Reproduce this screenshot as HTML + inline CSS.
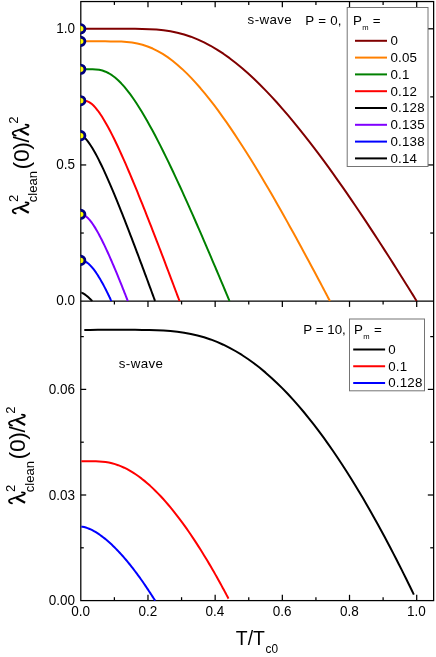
<!DOCTYPE html><html><head><meta charset="utf-8"><style>html,body{margin:0;padding:0;background:#fff}body{width:436px;height:657px;overflow:hidden;position:relative}</style></head><body><svg width="436" height="657" viewBox="0 0 436 657" style="position:absolute;left:0;top:0;will-change:transform;font-family:'Liberation Sans',sans-serif">
<rect width="436" height="657" fill="#fff"/>
<defs><clipPath id="ct"><rect x="81.3" y="1.55" width="352.33" height="299.90000000000003"/></clipPath><clipPath id="cb"><rect x="81.3" y="301.70000000000005" width="352.33" height="299.25"/></clipPath><clipPath id="cm"><rect x="80.5" y="0" width="30" height="300"/></clipPath></defs>
<g stroke="#000" stroke-width="1.25" fill="none">
<line x1="114.39" y1="1.55" x2="114.39" y2="4.95"/>
<line x1="114.39" y1="301.1" x2="114.39" y2="304.5"/>
<line x1="114.39" y1="600.6" x2="114.39" y2="597.2"/>
<line x1="147.98" y1="1.55" x2="147.98" y2="7.35"/>
<line x1="147.98" y1="301.1" x2="147.98" y2="306.90000000000003"/>
<line x1="147.98" y1="600.6" x2="147.98" y2="594.8000000000001"/>
<line x1="181.57" y1="1.55" x2="181.57" y2="4.95"/>
<line x1="181.57" y1="301.1" x2="181.57" y2="304.5"/>
<line x1="181.57" y1="600.6" x2="181.57" y2="597.2"/>
<line x1="215.16" y1="1.55" x2="215.16" y2="7.35"/>
<line x1="215.16" y1="301.1" x2="215.16" y2="306.90000000000003"/>
<line x1="215.16" y1="600.6" x2="215.16" y2="594.8000000000001"/>
<line x1="248.75" y1="1.55" x2="248.75" y2="4.95"/>
<line x1="248.75" y1="301.1" x2="248.75" y2="304.5"/>
<line x1="248.75" y1="600.6" x2="248.75" y2="597.2"/>
<line x1="282.34" y1="1.55" x2="282.34" y2="7.35"/>
<line x1="282.34" y1="301.1" x2="282.34" y2="306.90000000000003"/>
<line x1="282.34" y1="600.6" x2="282.34" y2="594.8000000000001"/>
<line x1="315.93" y1="1.55" x2="315.93" y2="4.95"/>
<line x1="315.93" y1="301.1" x2="315.93" y2="304.5"/>
<line x1="315.93" y1="600.6" x2="315.93" y2="597.2"/>
<line x1="349.52" y1="1.55" x2="349.52" y2="7.35"/>
<line x1="349.52" y1="301.1" x2="349.52" y2="306.90000000000003"/>
<line x1="349.52" y1="600.6" x2="349.52" y2="594.8000000000001"/>
<line x1="383.11" y1="1.55" x2="383.11" y2="4.95"/>
<line x1="383.11" y1="301.1" x2="383.11" y2="304.5"/>
<line x1="383.11" y1="600.6" x2="383.11" y2="597.2"/>
<line x1="416.70" y1="1.55" x2="416.70" y2="7.35"/>
<line x1="416.70" y1="301.1" x2="416.70" y2="306.90000000000003"/>
<line x1="416.70" y1="600.6" x2="416.70" y2="594.8000000000001"/>
<line x1="80.8" y1="233.03" x2="83.8" y2="233.03"/>
<line x1="433.63" y1="233.03" x2="430.23" y2="233.03"/>
<line x1="80.8" y1="164.95" x2="86.19999999999999" y2="164.95"/>
<line x1="433.63" y1="164.95" x2="427.83" y2="164.95"/>
<line x1="80.8" y1="96.88" x2="83.8" y2="96.88"/>
<line x1="433.63" y1="96.88" x2="430.23" y2="96.88"/>
<line x1="80.8" y1="28.80" x2="86.19999999999999" y2="28.80"/>
<line x1="433.63" y1="28.80" x2="427.83" y2="28.80"/>
<line x1="80.8" y1="547.80" x2="83.8" y2="547.80"/>
<line x1="433.63" y1="547.80" x2="430.23" y2="547.80"/>
<line x1="80.8" y1="495.00" x2="86.19999999999999" y2="495.00"/>
<line x1="433.63" y1="495.00" x2="427.83" y2="495.00"/>
<line x1="80.8" y1="442.20" x2="83.8" y2="442.20"/>
<line x1="433.63" y1="442.20" x2="430.23" y2="442.20"/>
<line x1="80.8" y1="389.40" x2="86.19999999999999" y2="389.40"/>
<line x1="433.63" y1="389.40" x2="427.83" y2="389.40"/>
<line x1="80.8" y1="336.60" x2="83.8" y2="336.60"/>
<line x1="433.63" y1="336.60" x2="430.23" y2="336.60"/>
</g>
<g stroke="#000" stroke-width="1.25" fill="none">
<rect x="80.8" y="1.55" width="352.83" height="599.0500000000001"/>
<line x1="80.8" y1="301.1" x2="433.63" y2="301.1"/>
</g>
<g clip-path="url(#ct)" fill="none" stroke-width="2.0" stroke-linejoin="round">
<path d="M80.80,28.80 L82.48,28.80 L90.19,28.80 L97.84,28.80 L105.41,28.80 L112.92,28.80 L120.36,28.80 L127.73,28.81 L135.03,28.84 L142.26,28.94 L149.42,29.17 L156.50,29.60 L163.52,30.29 L170.46,31.31 L177.33,32.70 L184.13,34.49 L190.86,36.69 L197.51,39.31 L204.08,42.34 L210.58,45.76 L217.00,49.56 L223.35,53.70 L229.62,58.17 L235.81,62.94 L241.92,67.98 L247.96,73.27 L253.91,78.78 L259.78,84.49 L265.57,90.36 L271.28,96.39 L276.91,102.54 L282.45,108.80 L287.91,115.15 L293.28,121.57 L298.57,128.05 L303.77,134.56 L308.88,141.10 L313.90,147.65 L318.83,154.19 L323.67,160.71 L328.42,167.21 L333.07,173.66 L337.63,180.07 L342.09,186.41 L346.45,192.69 L350.71,198.88 L354.87,204.98 L358.93,210.99 L362.89,216.89 L366.73,222.67 L370.47,228.34 L374.10,233.87 L377.62,239.26 L381.02,244.51 L384.30,249.60 L387.46,254.52 L390.50,259.28 L393.41,263.86 L396.19,268.24 L398.84,272.43 L401.34,276.41 L403.70,280.17 L405.90,283.70 L407.95,286.98 L409.82,289.99 L411.52,292.73 L413.02,295.15 L414.32,297.24 L415.38,298.95 L416.15,300.21 L416.53,300.83 L416.70,301.10" stroke="#800000"/>
<path d="M80.80,41.37 L82.48,41.37 L88.19,41.37 L93.85,41.37 L99.46,41.37 L105.02,41.37 L110.53,41.39 L115.98,41.45 L121.39,41.62 L126.74,41.97 L132.04,42.58 L137.29,43.51 L142.48,44.80 L147.62,46.47 L152.71,48.55 L157.74,51.03 L162.72,53.91 L167.64,57.15 L172.51,60.75 L177.32,64.67 L182.08,68.90 L186.78,73.40 L191.42,78.14 L196.00,83.11 L200.53,88.28 L205.00,93.62 L209.41,99.11 L213.75,104.73 L218.04,110.46 L222.27,116.29 L226.44,122.18 L230.54,128.14 L234.58,134.14 L238.56,140.18 L242.47,146.22 L246.32,152.27 L250.11,158.32 L253.82,164.35 L257.47,170.34 L261.06,176.30 L264.57,182.22 L268.01,188.07 L271.39,193.87 L274.69,199.59 L277.92,205.24 L281.08,210.80 L284.16,216.26 L287.16,221.63 L290.09,226.89 L292.94,232.04 L295.71,237.07 L298.40,241.98 L301.00,246.76 L303.52,251.40 L305.95,255.90 L308.29,260.24 L310.54,264.44 L312.69,268.46 L314.75,272.32 L316.71,276.00 L318.56,279.49 L320.31,282.79 L321.94,285.88 L323.45,288.75 L324.84,291.39 L326.10,293.78 L327.21,295.90 L328.17,297.73 L328.95,299.23 L329.53,300.32 L329.81,300.86 L329.93,301.10" stroke="#ff8000"/>
<path d="M80.80,69.24 L82.48,69.24 L85.87,69.24 L89.24,69.24 L92.57,69.27 L95.87,69.43 L99.15,69.82 L102.39,70.56 L105.60,71.69 L108.78,73.23 L111.93,75.19 L115.05,77.54 L118.14,80.26 L121.19,83.32 L124.22,86.68 L127.21,90.31 L130.17,94.18 L133.09,98.27 L135.98,102.54 L138.84,106.97 L141.67,111.54 L144.46,116.23 L147.22,121.01 L149.95,125.89 L152.64,130.82 L155.29,135.82 L157.91,140.85 L160.49,145.91 L163.04,150.98 L165.55,156.07 L168.03,161.15 L170.47,166.23 L172.87,171.28 L175.23,176.31 L177.56,181.31 L179.85,186.27 L182.10,191.19 L184.31,196.06 L186.48,200.88 L188.61,205.63 L190.69,210.33 L192.74,214.95 L194.75,219.51 L196.71,223.98 L198.63,228.38 L200.50,232.70 L202.33,236.93 L204.12,241.06 L205.86,245.11 L207.55,249.06 L209.20,252.90 L210.80,256.64 L212.34,260.27 L213.84,263.80 L215.28,267.20 L216.68,270.49 L218.01,273.65 L219.29,276.68 L220.52,279.58 L221.68,282.35 L222.78,284.97 L223.82,287.44 L224.79,289.75 L225.69,291.89 L226.51,293.86 L227.26,295.65 L227.92,297.23 L228.49,298.59 L228.96,299.70 L229.30,300.52 L229.46,300.92 L229.54,301.10" stroke="#008000"/>
<path d="M80.80,100.67 L82.48,100.67 L84.72,100.73 L86.94,101.15 L89.14,102.11 L91.32,103.59 L93.48,105.54 L95.62,107.86 L97.74,110.51 L99.84,113.43 L101.92,116.57 L103.98,119.91 L106.02,123.40 L108.03,127.03 L110.03,130.78 L112.01,134.62 L113.96,138.53 L115.89,142.51 L117.80,146.55 L119.69,150.62 L121.55,154.72 L123.40,158.84 L125.22,162.97 L127.02,167.11 L128.79,171.25 L130.54,175.39 L132.27,179.51 L133.98,183.61 L135.66,187.69 L137.32,191.74 L138.95,195.77 L140.56,199.76 L142.15,203.71 L143.71,207.62 L145.24,211.49 L146.75,215.31 L148.24,219.09 L149.70,222.81 L151.13,226.48 L152.53,230.09 L153.91,233.65 L155.26,237.14 L156.59,240.57 L157.88,243.94 L159.15,247.24 L160.39,250.47 L161.60,253.63 L162.78,256.72 L163.93,259.73 L165.04,262.67 L166.13,265.53 L167.18,268.31 L168.20,271.00 L169.19,273.61 L170.15,276.13 L171.06,278.56 L171.95,280.89 L172.79,283.13 L173.60,285.27 L174.37,287.31 L175.09,289.24 L175.78,291.05 L176.42,292.76 L177.01,294.33 L177.56,295.78 L178.05,297.09 L178.49,298.26 L178.86,299.26 L179.17,300.07 L179.40,300.67 L179.51,300.97 L179.56,301.10" stroke="#ff0000"/>
<path d="M80.80,136.05 L82.48,136.05 L84.15,137.29 L85.82,138.93 L87.46,140.88 L89.09,143.07 L90.71,145.46 L92.31,148.01 L93.89,150.70 L95.46,153.50 L97.02,156.40 L98.56,159.38 L100.08,162.43 L101.59,165.53 L103.08,168.68 L104.56,171.86 L106.02,175.08 L107.46,178.32 L108.89,181.57 L110.30,184.83 L111.70,188.10 L113.08,191.37 L114.44,194.63 L115.78,197.89 L117.11,201.13 L118.42,204.36 L119.72,207.58 L120.99,210.77 L122.25,213.94 L123.49,217.08 L124.71,220.20 L125.92,223.28 L127.10,226.33 L128.27,229.35 L129.42,232.33 L130.54,235.28 L131.66,238.18 L132.75,241.05 L133.82,243.87 L134.87,246.64 L135.90,249.37 L136.91,252.05 L137.90,254.69 L138.87,257.27 L139.82,259.80 L140.74,262.28 L141.65,264.71 L142.53,267.08 L143.39,269.39 L144.22,271.64 L145.03,273.83 L145.82,275.96 L146.59,278.02 L147.32,280.02 L148.04,281.95 L148.72,283.81 L149.38,285.61 L150.02,287.32 L150.62,288.96 L151.19,290.52 L151.74,292.00 L152.25,293.40 L152.73,294.70 L153.17,295.91 L153.58,297.02 L153.95,298.03 L154.28,298.92 L154.56,299.69 L154.79,300.31 L154.95,300.77 L155.04,301.00 L155.07,301.10" stroke="#000000"/>
<path d="M80.80,214.56 L82.48,214.56 L83.53,214.92 L84.56,215.44 L85.59,216.10 L86.61,216.89 L87.62,217.80 L88.62,218.83 L89.61,219.94 L90.59,221.14 L91.57,222.42 L92.53,223.77 L93.48,225.17 L94.42,226.63 L95.36,228.14 L96.28,229.68 L97.19,231.26 L98.09,232.87 L98.99,234.51 L99.87,236.17 L100.74,237.85 L101.60,239.54 L102.45,241.24 L103.29,242.95 L104.12,244.66 L104.94,246.38 L105.75,248.10 L106.55,249.82 L107.34,251.53 L108.11,253.24 L108.87,254.94 L109.63,256.64 L110.37,258.32 L111.10,259.99 L111.81,261.64 L112.52,263.28 L113.21,264.90 L113.90,266.51 L114.57,268.09 L115.22,269.66 L115.87,271.20 L116.50,272.72 L117.12,274.21 L117.72,275.69 L118.31,277.13 L118.89,278.55 L119.46,279.94 L120.01,281.30 L120.55,282.63 L121.07,283.92 L121.58,285.19 L122.07,286.42 L122.55,287.62 L123.01,288.78 L123.45,289.90 L123.88,290.98 L124.29,292.02 L124.69,293.02 L125.07,293.98 L125.43,294.89 L125.77,295.76 L126.09,296.58 L126.39,297.34 L126.66,298.05 L126.92,298.70 L127.15,299.29 L127.35,299.82 L127.53,300.27 L127.67,300.64 L127.78,300.91 L127.83,301.04 L127.85,301.10" stroke="#8000ff"/>
<path d="M80.80,260.57 L82.48,260.57 L83.15,260.72 L83.81,260.93 L84.46,261.18 L85.11,261.48 L85.76,261.82 L86.39,262.20 L87.03,262.62 L87.65,263.08 L88.27,263.57 L88.88,264.09 L89.49,264.65 L90.09,265.23 L90.68,265.84 L91.27,266.47 L91.85,267.12 L92.43,267.80 L93.00,268.49 L93.56,269.20 L94.12,269.93 L94.66,270.67 L95.21,271.42 L95.74,272.18 L96.27,272.95 L96.79,273.73 L97.31,274.52 L97.82,275.31 L98.32,276.11 L98.81,276.91 L99.30,277.71 L99.78,278.51 L100.25,279.31 L100.71,280.12 L101.17,280.92 L101.62,281.71 L102.06,282.50 L102.50,283.29 L102.92,284.08 L103.34,284.85 L103.75,285.62 L104.16,286.38 L104.55,287.13 L104.94,287.87 L105.31,288.61 L105.68,289.33 L106.04,290.03 L106.39,290.73 L106.74,291.41 L107.07,292.08 L107.39,292.73 L107.71,293.37 L108.01,293.99 L108.30,294.60 L108.59,295.18 L108.86,295.75 L109.12,296.29 L109.38,296.82 L109.62,297.32 L109.84,297.81 L110.06,298.26 L110.27,298.69 L110.46,299.10 L110.63,299.48 L110.80,299.82 L110.94,300.14 L111.07,300.42 L111.18,300.66 L111.28,300.85 L111.34,301.00 L111.38,301.07 L111.39,301.10" stroke="#0000ff"/>
<path d="M80.80,292.60 L81.19,292.67 L81.59,292.78 L81.98,292.92 L82.38,293.08 L82.77,293.27 L83.16,293.47 L83.56,293.69 L83.95,293.92 L84.34,294.16 L84.74,294.42 L85.13,294.69 L85.53,294.97 L85.92,295.26 L86.31,295.56 L86.71,295.87 L87.10,296.19 L87.49,296.52 L87.89,296.86 L88.28,297.21 L88.68,297.56 L89.07,297.92 L89.46,298.30 L89.86,298.67 L90.25,299.06 L90.65,299.45 L91.04,299.86 L91.43,300.26 L91.83,300.68 L92.22,301.10" stroke="#000"/>
</g>
<g clip-path="url(#cb)" fill="none" stroke-width="2.0" stroke-linejoin="round">
<path d="M84.30,329.89 L90.19,329.88 L97.84,329.86 L105.41,329.86 L112.92,329.86 L120.36,329.86 L127.73,329.86 L135.03,329.87 L142.26,329.91 L149.42,330.00 L156.50,330.19 L163.52,330.51 L170.46,331.00 L177.33,331.71 L184.13,332.67 L190.86,333.91 L197.51,335.44 L204.08,337.28 L210.58,339.43 L217.00,341.91 L223.35,344.71 L229.62,347.82 L235.81,351.25 L241.92,354.97 L247.96,358.98 L253.91,363.27 L259.78,367.82 L265.57,372.63 L271.28,377.67 L276.91,382.93 L282.45,388.40 L287.91,394.05 L293.28,399.88 L298.57,405.88 L303.77,412.01 L308.88,418.28 L313.90,424.66 L318.83,431.14 L323.67,437.70 L328.42,444.33 L333.07,451.01 L337.63,457.74 L342.09,464.49 L346.45,471.24 L350.71,478.00 L354.87,484.74 L358.93,491.44 L362.89,498.10 L366.73,504.70 L370.47,511.22 L374.10,517.66 L377.62,523.99 L381.02,530.21 L384.30,536.29 L387.46,542.22 L390.50,548.00 L393.41,553.59 L396.19,559.00 L398.84,564.19 L401.34,569.15 L403.70,573.87 L405.90,578.31 L407.95,582.47 L409.82,586.31 L411.52,589.81 L413.02,592.92 L413.84,594.63" stroke="#000"/>
<path d="M80.80,461.23 L82.48,461.23 L85.87,461.23 L89.24,461.23 L92.57,461.23 L95.87,461.28 L99.15,461.40 L102.39,461.65 L105.60,462.03 L108.78,462.57 L111.93,463.27 L115.05,464.14 L118.14,465.18 L121.19,466.38 L124.22,467.72 L127.21,469.22 L130.17,470.86 L133.09,472.63 L135.98,474.52 L138.84,476.54 L141.67,478.66 L144.46,480.89 L147.22,483.21 L149.95,485.62 L152.64,488.12 L155.29,490.69 L157.91,493.33 L160.49,496.04 L163.04,498.80 L165.55,501.62 L168.03,504.48 L170.47,507.39 L172.87,510.33 L175.23,513.30 L177.56,516.30 L179.85,519.32 L182.10,522.35 L184.31,525.39 L186.48,528.45 L188.61,531.50 L190.69,534.55 L192.74,537.59 L194.75,540.62 L196.71,543.63 L198.63,546.62 L200.50,549.59 L202.33,552.52 L204.12,555.42 L205.86,558.28 L207.55,561.10 L209.20,563.87 L210.80,566.59 L212.34,569.25 L213.84,571.85 L215.28,574.38 L216.68,576.85 L218.01,579.23 L219.29,581.53 L220.52,583.75 L221.68,585.87 L222.78,587.90 L223.82,589.81 L224.79,591.62 L225.69,593.30 L226.51,594.85 L227.26,596.26 L227.92,597.52 L228.49,598.60 L228.50,598.61" stroke="#ff0000"/>
<path d="M80.80,526.74 L82.48,526.74 L84.15,527.07 L85.82,527.52 L87.46,528.08 L89.09,528.72 L90.71,529.43 L92.31,530.22 L93.89,531.07 L95.46,531.97 L97.02,532.93 L98.56,533.94 L100.08,534.99 L101.59,536.08 L103.08,537.20 L104.56,538.36 L106.02,539.56 L107.46,540.78 L108.89,542.03 L110.30,543.30 L111.70,544.60 L113.08,545.91 L114.44,547.25 L115.78,548.60 L117.11,549.96 L118.42,551.34 L119.72,552.72 L120.99,554.12 L122.25,555.52 L123.49,556.93 L124.71,558.34 L125.92,559.76 L127.10,561.18 L128.27,562.59 L129.42,564.00 L130.54,565.41 L131.66,566.82 L132.75,568.22 L133.82,569.61 L134.87,570.99 L135.90,572.36 L136.91,573.72 L137.90,575.07 L138.87,576.40 L139.82,577.71 L140.74,579.01 L141.65,580.29 L142.53,581.55 L143.39,582.78 L144.22,584.00 L145.03,585.18 L145.82,586.34 L146.59,587.48 L147.32,588.58 L148.04,589.65 L148.72,590.69 L149.38,591.70 L150.02,592.66 L150.62,593.59 L151.19,594.48 L151.74,595.33 L152.25,596.13 L152.73,596.88 L153.17,597.58 L153.58,598.22 L153.95,598.80 L154.28,599.32 L154.56,599.77 L154.79,600.14 L154.95,600.41 L155.04,600.54 L155.07,600.60" stroke="#0000ff"/>
</g>
<g clip-path="url(#cm)" fill="#ffff00" stroke="#000080" stroke-width="2.85">
<circle cx="80.8" cy="28.80" r="4.1"/>
<circle cx="80.8" cy="41.37" r="4.1"/>
<circle cx="80.8" cy="69.24" r="4.1"/>
<circle cx="80.8" cy="100.66" r="4.1"/>
<circle cx="80.8" cy="135.64" r="4.1"/>
<circle cx="80.8" cy="214.34" r="4.1"/>
<circle cx="80.8" cy="260.40" r="4.1"/>
</g>
<g font-size="14.0" fill="#000">
<text transform="translate(75.1,32.75) scale(0.965,1)" text-anchor="end">1.0</text>
<text transform="translate(75.1,168.90) scale(0.965,1)" text-anchor="end">0.5</text>
<text transform="translate(75.1,305.05) scale(0.965,1)" text-anchor="end">0.0</text>
<text transform="translate(75.1,393.95) scale(0.965,1)" text-anchor="end">0.06</text>
<text transform="translate(75.1,499.55) scale(0.965,1)" text-anchor="end">0.03</text>
<text transform="translate(75.1,605.15) scale(0.965,1)" text-anchor="end">0.00</text>
<text transform="translate(80.60,616.2) scale(0.965,1)" text-anchor="middle">0.0</text>
<text transform="translate(147.78,616.2) scale(0.965,1)" text-anchor="middle">0.2</text>
<text transform="translate(214.96,616.2) scale(0.965,1)" text-anchor="middle">0.4</text>
<text transform="translate(282.14,616.2) scale(0.965,1)" text-anchor="middle">0.6</text>
<text transform="translate(349.32,616.2) scale(0.965,1)" text-anchor="middle">0.8</text>
<text transform="translate(416.50,616.2) scale(0.965,1)" text-anchor="middle">1.0</text>
</g>
<rect x="347.2" y="7.5" width="80.8" height="159.0" fill="#fff" stroke="#747474" stroke-width="1"/>
<text x="353.0" y="24.8" font-size="13.33">P<tspan font-size="7.6" dy="5.4" dx="0.3">m</tspan><tspan dy="-4.9" dx="4.3">=</tspan></text>
<line x1="355.0" y1="40.80" x2="387.0" y2="40.80" stroke="#800000" stroke-width="2.0"/>
<text x="390.4" y="45.10" font-size="13.33" letter-spacing="0.2">0</text>
<line x1="355.0" y1="57.60" x2="387.0" y2="57.60" stroke="#ff8000" stroke-width="2.0"/>
<text x="390.4" y="61.90" font-size="13.33" letter-spacing="0.2">0.05</text>
<line x1="355.0" y1="74.40" x2="387.0" y2="74.40" stroke="#008000" stroke-width="2.0"/>
<text x="390.4" y="78.70" font-size="13.33" letter-spacing="0.2">0.1</text>
<line x1="355.0" y1="91.20" x2="387.0" y2="91.20" stroke="#ff0000" stroke-width="2.0"/>
<text x="390.4" y="95.50" font-size="13.33" letter-spacing="0.2">0.12</text>
<line x1="355.0" y1="108.00" x2="387.0" y2="108.00" stroke="#000000" stroke-width="2.0"/>
<text x="390.4" y="112.30" font-size="13.33" letter-spacing="0.2">0.128</text>
<line x1="355.0" y1="124.80" x2="387.0" y2="124.80" stroke="#8000ff" stroke-width="2.0"/>
<text x="390.4" y="129.10" font-size="13.33" letter-spacing="0.2">0.135</text>
<line x1="355.0" y1="141.60" x2="387.0" y2="141.60" stroke="#0000ff" stroke-width="2.0"/>
<text x="390.4" y="145.90" font-size="13.33" letter-spacing="0.2">0.138</text>
<line x1="355.0" y1="158.40" x2="387.0" y2="158.40" stroke="#000000" stroke-width="2.0"/>
<text x="390.4" y="162.70" font-size="13.33" letter-spacing="0.2">0.14</text>
<rect x="349.5" y="319.0" width="75.0" height="71.8" fill="#fff" stroke="#747474" stroke-width="1"/>
<text x="354.1" y="333.6" font-size="13.33">P<tspan font-size="7.6" dy="5.4" dx="0.3">m</tspan><tspan dy="-4.9" dx="4.3">=</tspan></text>
<line x1="353.2" y1="349.60" x2="385.1" y2="349.60" stroke="#000" stroke-width="2.0"/>
<text x="388.2" y="353.90" font-size="13.33" letter-spacing="0.2">0</text>
<line x1="353.2" y1="366.30" x2="385.1" y2="366.30" stroke="#ff0000" stroke-width="2.0"/>
<text x="388.2" y="370.60" font-size="13.33" letter-spacing="0.2">0.1</text>
<line x1="353.2" y1="383.00" x2="385.1" y2="383.00" stroke="#0000ff" stroke-width="2.0"/>
<text x="388.2" y="387.30" font-size="13.33" letter-spacing="0.2">0.128</text>
<g font-size="13.33" fill="#000" letter-spacing="0.37">
<text x="247.6" y="24.3">s-wave</text>
<text x="305.3" y="24.7" letter-spacing="0.25">P = 0,</text>
<text x="118.8" y="368.3">s-wave</text>
<text x="303.3" y="333.6" letter-spacing="0.02">P = 10,</text>
</g>
<text transform="translate(235.8,645.25) scale(0.985,1)" font-size="19.7">T/T<tspan font-size="12" dy="7.45" dx="0.7">c0</tspan></text>
<g transform="translate(28.7,214.0) rotate(-90)" fill="#000">
<g><path d="M0.6,-13 C0.9,-14.8 1.9,-16 3.2,-16 C4.6,-16 5.2,-14 5.7,-11.8 L8.8,-2.2 C9.2,-0.9 9.6,-0.1 10.4,-0.1 C11.2,-0.1 11.7,-1.2 11.7,-3.1" fill="none" stroke="#000" stroke-width="1.75" stroke-linecap="round"/><path d="M6.1,-8.8 L1.2,0.1" fill="none" stroke="#000" stroke-width="2.3" stroke-linecap="butt"/></g>
<text x="12.0" y="-10.4" font-size="13">2</text>
<text x="11.8" y="8.6" font-size="13">clean</text>
<text x="44.6" y="0" font-size="22.8" letter-spacing="-0.3">(0)/</text>
<g transform="translate(77.7,0)"><path d="M0.6,-13 C0.9,-14.8 1.9,-16 3.2,-16 C4.6,-16 5.2,-14 5.7,-11.8 L8.8,-2.2 C9.2,-0.9 9.6,-0.1 10.4,-0.1 C11.2,-0.1 11.7,-1.2 11.7,-3.1" fill="none" stroke="#000" stroke-width="1.75" stroke-linecap="round"/><path d="M6.1,-8.8 L1.2,0.1" fill="none" stroke="#000" stroke-width="2.3" stroke-linecap="butt"/></g>
<text x="90.3" y="-10.4" font-size="13">2</text>
</g>
<g transform="translate(25.0,504.0) rotate(-90)" fill="#000">
<g><path d="M0.6,-13 C0.9,-14.8 1.9,-16 3.2,-16 C4.6,-16 5.2,-14 5.7,-11.8 L8.8,-2.2 C9.2,-0.9 9.6,-0.1 10.4,-0.1 C11.2,-0.1 11.7,-1.2 11.7,-3.1" fill="none" stroke="#000" stroke-width="1.75" stroke-linecap="round"/><path d="M6.1,-8.8 L1.2,0.1" fill="none" stroke="#000" stroke-width="2.3" stroke-linecap="butt"/></g>
<text x="12.0" y="-10.4" font-size="13">2</text>
<text x="11.8" y="8.6" font-size="13">clean</text>
<text x="44.6" y="0" font-size="22.8" letter-spacing="-0.3">(0)/</text>
<g transform="translate(77.7,0)"><path d="M0.6,-13 C0.9,-14.8 1.9,-16 3.2,-16 C4.6,-16 5.2,-14 5.7,-11.8 L8.8,-2.2 C9.2,-0.9 9.6,-0.1 10.4,-0.1 C11.2,-0.1 11.7,-1.2 11.7,-3.1" fill="none" stroke="#000" stroke-width="1.75" stroke-linecap="round"/><path d="M6.1,-8.8 L1.2,0.1" fill="none" stroke="#000" stroke-width="2.3" stroke-linecap="butt"/></g>
<text x="90.3" y="-10.4" font-size="13">2</text>
</g>
</svg></body></html>
